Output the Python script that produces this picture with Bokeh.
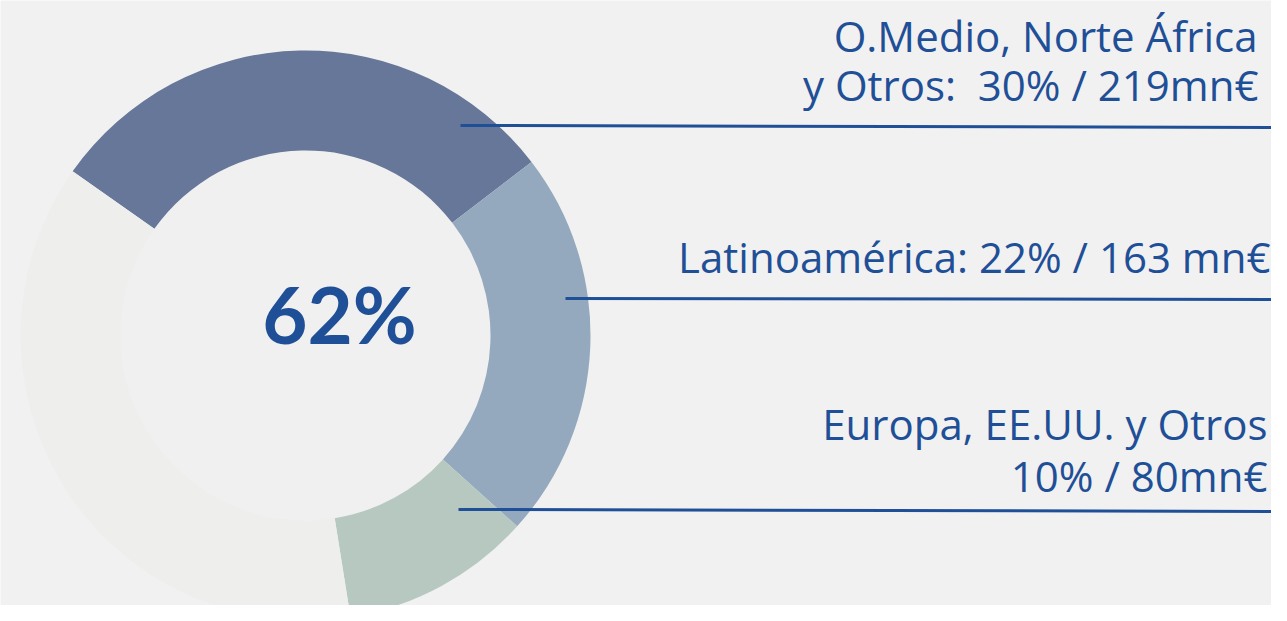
import numpy as np
from bokeh.plotting import figure
from bokeh.models import Range1d
from bokeh.core.properties import value
from bokeh.embed import file_html
from bokeh.resources import INLINE

# ---- data ----
regions = ["O.Medio, Norte África y Otros", "Latinoamérica", "Europa, EE.UU. y Otros", "Resto"]
shares = [29.8, 22.1, 10.8, 37.3]          # % of the full ring
label_texts = [
    ["O.Medio, Norte África", "y Otros:\u00a0 30% / 219mn€"],
    ["Latinoamérica: 22% / 163 mn€"],
    ["Europa, EE.UU. y Otros", "10% / 80mn€"],
]
center_label = "62%"

# ---- style / layout ----
colors = ["#677799", "#94A9BE", "#B7C8C1", "#EEEEEC"]
TXT = "#1F4F97"
BG = "#F1F1F1"
W, H = 1271, 605
PAGE_H = 621
cx, cy = 305, PAGE_H - 335
r_out, r_in = 285, 185
start_deg = 144.8

p = figure(width=W, height=H, x_range=Range1d(0, W), y_range=Range1d(PAGE_H - H, PAGE_H),
           output_backend="svg", toolbar_location=None, min_border=0,
           x_axis_type=None, y_axis_type=None)
p.background_fill_color = BG
p.border_fill_color = BG
p.outline_line_color = None
p.grid.visible = False

# inner disc
p.circle(x=[cx], y=[cy], radius=r_in, fill_color="#F0F0F0", line_color=None)

cum = np.concatenate([[0], np.cumsum(shares)])
starts = np.deg2rad(start_deg - cum[:-1] / 100 * 360)
ends = np.deg2rad(start_deg - cum[1:] / 100 * 360)
p.annular_wedge(x=cx, y=cy, inner_radius=r_in, outer_radius=r_out,
                start_angle=starts, end_angle=ends, direction="clock",
                fill_color=colors, line_color=None)

# leader lines (page pixel positions)
lead_x0 = [460, 565, 458]
lead_x1 = [1280, 1290, 1290]
lead_y0 = [125, 298, 509]
lead_y1 = [127, 299, 511]
p.segment(x0=lead_x0, y0=[PAGE_H - v for v in lead_y0], x1=lead_x1, y1=[PAGE_H - v for v in lead_y1],
          line_color=TXT, line_width=3)

# labels (baseline positions in page pixels; small correction for the renderer's baseline)
LAB_FS = 42
lab_shift = 17
lab_right = [[1257, 1258], [1270], [1267, 1267]]
lab_base = [[52, 101], [273], [440, 492]]
for lines, xs, ys in zip(label_texts, lab_right, lab_base):
    p.text(x=xs, y=[PAGE_H - v + lab_shift for v in ys], text=lines, text_align="right",
           text_baseline="alphabetic", text_font=value("Open Sans"), text_font_size=f"{LAB_FS}px",
           text_color=TXT)

p.text(x=[339], y=[PAGE_H - 343 + 30], text=[center_label], text_align="center",
       text_baseline="alphabetic", text_font=value("Lato"), text_font_style="bold",
       text_font_size="78px", text_color=TXT)

open("out.html", "w").write(file_html(p, INLINE))
